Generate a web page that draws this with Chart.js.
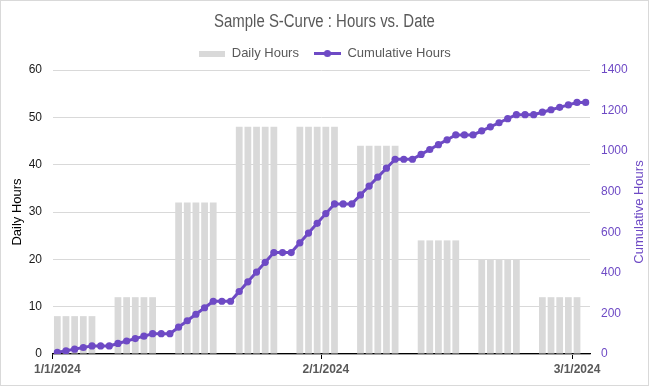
<!DOCTYPE html>
<html><head><meta charset="utf-8">
<script src="https://cdn.jsdelivr.net/npm/chart.js@4.4.1/dist/chart.umd.min.js"></script>
<style>html,body{margin:0;padding:0;background:#fff;overflow:hidden}</style>
</head><body><canvas id="c" width="649" height="386"></canvas>
<script>
const dateLabels = [
  '1/1/2024','1/2/2024','1/3/2024','1/4/2024','1/5/2024','1/6/2024','1/7/2024',
  '1/8/2024','1/9/2024','1/10/2024','1/11/2024','1/12/2024','1/13/2024','1/14/2024',
  '1/15/2024','1/16/2024','1/17/2024','1/18/2024','1/19/2024','1/20/2024','1/21/2024',
  '1/22/2024','1/23/2024','1/24/2024','1/25/2024','1/26/2024','1/27/2024','1/28/2024',
  '1/29/2024','1/30/2024','1/31/2024','2/1/2024','2/2/2024','2/3/2024','2/4/2024',
  '2/5/2024','2/6/2024','2/7/2024','2/8/2024','2/9/2024','2/10/2024','2/11/2024',
  '2/12/2024','2/13/2024','2/14/2024','2/15/2024','2/16/2024','2/17/2024','2/18/2024',
  '2/19/2024','2/20/2024','2/21/2024','2/22/2024','2/23/2024','2/24/2024','2/25/2024',
  '2/26/2024','2/27/2024','2/28/2024','2/29/2024','3/1/2024','3/2/2024'
];
const dailyHours = [
  8, 8, 8, 8, 8, null, null,
  12, 12, 12, 12, 12, null, null,
  32, 32, 32, 32, 32, null, null,
  48, 48, 48, 48, 48, null, null,
  48, 48, 48, 48, 48, null, null,
  44, 44, 44, 44, 44, null, null,
  24, 24, 24, 24, 24, null, null,
  20, 20, 20, 20, 20, null, null,
  12, 12, 12, 12, 12, null
];
const cumulativeHours = [
  8, 16, 24, 32, 40, 40, 40,
  52, 64, 76, 88, 100, 100, 100,
  132, 164, 196, 228, 260, 260, 260,
  308, 356, 404, 452, 500, 500, 500,
  548, 596, 644, 692, 740, 740, 740,
  784, 828, 872, 916, 960, 960, 960,
  984, 1008, 1032, 1056, 1080, 1080, 1080,
  1100, 1120, 1140, 1160, 1180, 1180, 1180,
  1192, 1204, 1216, 1228, 1240, 1240
];
const shownDateTicks = ['1/1/2024', '2/1/2024', '3/1/2024'];
const seriesNames = ['Daily Hours', 'Cumulative Hours'];
const titleText = 'Sample S-Curve : Hours vs. Date';
const leftAxisTitle = 'Daily Hours';
const rightAxisTitle = 'Cumulative Hours';

const PURPLE = '#6E4AC5';
const BAR_GREY = '#D9D9D9';
const TEXT_GREY = '#595959';
const FONT = '"Liberation Sans", Arial, sans-serif';

const tickIdx = new Set(shownDateTicks.map(t => dateLabels.indexOf(t)));

function keyCanvas(kind) {
  const cv = document.createElement('canvas');
  if (kind === 'bar') {
    cv.width = 26; cv.height = 6;
    const g = cv.getContext('2d');
    g.fillStyle = BAR_GREY; g.fillRect(0, 0, 26, 6);
  } else {
    cv.width = 27; cv.height = 9;
    const g = cv.getContext('2d');
    g.strokeStyle = PURPLE; g.lineWidth = 3;
    g.beginPath(); g.moveTo(0, 4.5); g.lineTo(27, 4.5); g.stroke();
    g.fillStyle = PURPLE; g.beginPath(); g.arc(13.5, 4.5, 3.6, 0, Math.PI * 2); g.fill();
  }
  return cv;
}
const barKey = keyCanvas('bar');
const lineKey = keyCanvas('line');

const decor = {
  id: 'decor',
  afterInit(chart) {
    // render the title slightly condensed, like the reference's narrow title face
    const tb = chart.titleBlock;
    if (tb && !tb._condensed) {
      const orig = tb.draw.bind(tb);
      tb.draw = function () {
        const g = this.ctx;
        const cx = (this.left + this.right) / 2;
        g.save();
        g.translate(cx, 0); g.scale(0.83, 1); g.translate(-cx, 0);
        orig();
        g.restore();
      };
      tb._condensed = true;
    }
  },
  beforeDraw(chart) {
    const g = chart.ctx;
    g.save(); g.fillStyle = '#fff'; g.fillRect(0, 0, chart.width, chart.height); g.restore();
  },
  afterDraw(chart) {
    const g = chart.ctx;
    const s = chart.scales.y1;
    g.save();
    g.translate(s.right - 10, (s.top + s.bottom) / 2);
    g.rotate(-Math.PI / 2);
    g.font = '13px ' + FONT;
    g.fillStyle = PURPLE;
    g.textAlign = 'center';
    g.textBaseline = 'middle';
    g.fillText(rightAxisTitle, 0, 0);
    g.restore();
    g.save();
    g.strokeStyle = '#D9D9D9'; g.lineWidth = 1;
    g.strokeRect(0.5, 0.5, chart.width - 1, chart.height - 1);
    g.restore();
  }
};

new Chart(document.getElementById('c'), {
  type: 'bar',
  data: {
    labels: dateLabels,
    datasets: [
      {
        type: 'bar', label: seriesNames[0], data: dailyHours, yAxisID: 'y',
        backgroundColor: BAR_GREY, barPercentage: 0.78, categoryPercentage: 1, order: 2
      },
      {
        type: 'line', label: seriesNames[1], data: cumulativeHours, yAxisID: 'y1',
        borderColor: PURPLE, backgroundColor: PURPLE, borderWidth: 3,
        pointRadius: 3.6, pointBackgroundColor: PURPLE, pointBorderWidth: 0,
        tension: 0, order: 1
      }
    ]
  },
  options: {
    responsive: false, animation: false, devicePixelRatio: 1,
    layout: {padding: 0},
    plugins: {
      tooltip: {enabled: false},
      title: {
        display: true, text: titleText, color: TEXT_GREY,
        font: {family: FONT, size: 18, weight: 'normal', lineHeight: 1},
        padding: {top: 13.5, bottom: 0.5}
      },
      legend: {
        display: true, position: 'top',
        labels: {
          usePointStyle: true, pointStyleWidth: 27, boxHeight: 13, padding: 15,
          color: TEXT_GREY, font: {family: FONT, size: 13},
          generateLabels: () => [
            {text: seriesNames[0], pointStyle: barKey, fillStyle: BAR_GREY, strokeStyle: BAR_GREY, lineWidth: 0, hidden: false, datasetIndex: 0, fontColor: TEXT_GREY},
            {text: seriesNames[1], pointStyle: lineKey, fillStyle: PURPLE, strokeStyle: PURPLE, lineWidth: 0, hidden: false, datasetIndex: 1, fontColor: TEXT_GREY}
          ]
        }
      }
    },
    scales: {
      x: {
        type: 'category', offset: true,
        grid: {
          offset: true, drawOnChartArea: false, drawTicks: true, tickLength: 5, lineWidth: 1,
          color: ctx => tickIdx.has(ctx.index) ? '#000' : 'rgba(0,0,0,0)'
        },
        border: {display: true, color: '#000', width: 1.2},
        ticks: {
          autoSkip: false, maxRotation: 0, minRotation: 0, padding: 3, color: TEXT_GREY,
          font: {family: FONT, size: 12, weight: 'bold'},
          callback: (v, i) => tickIdx.has(i) ? dateLabels[i] : ''
        },
        afterFit: s => { s.height = 32; }
      },
      y: {
        position: 'left', min: 0, max: 60,
        grid: {color: '#D9D9D9', lineWidth: 1, drawTicks: false},
        border: {display: false},
        ticks: {stepSize: 10, padding: 11, color: '#1A1A1A', font: {family: FONT, size: 12},
          callback: v => String(v)},
        title: {display: true, text: leftAxisTitle, color: '#000', font: {family: FONT, size: 13}, padding: {top: 10, bottom: 0}},
        afterFit: s => { s.width = 53; }
      },
      y1: {
        position: 'right', min: 0, max: 1400,
        grid: {display: false, drawOnChartArea: false, drawTicks: false},
        border: {display: false},
        ticks: {stepSize: 200, padding: 11, color: PURPLE, font: {family: FONT, size: 12},
          callback: v => String(v)},
        afterFit: s => { s.width = 59; }
      }
    }
  },
  plugins: [decor]
});
</script>
</body></html>
